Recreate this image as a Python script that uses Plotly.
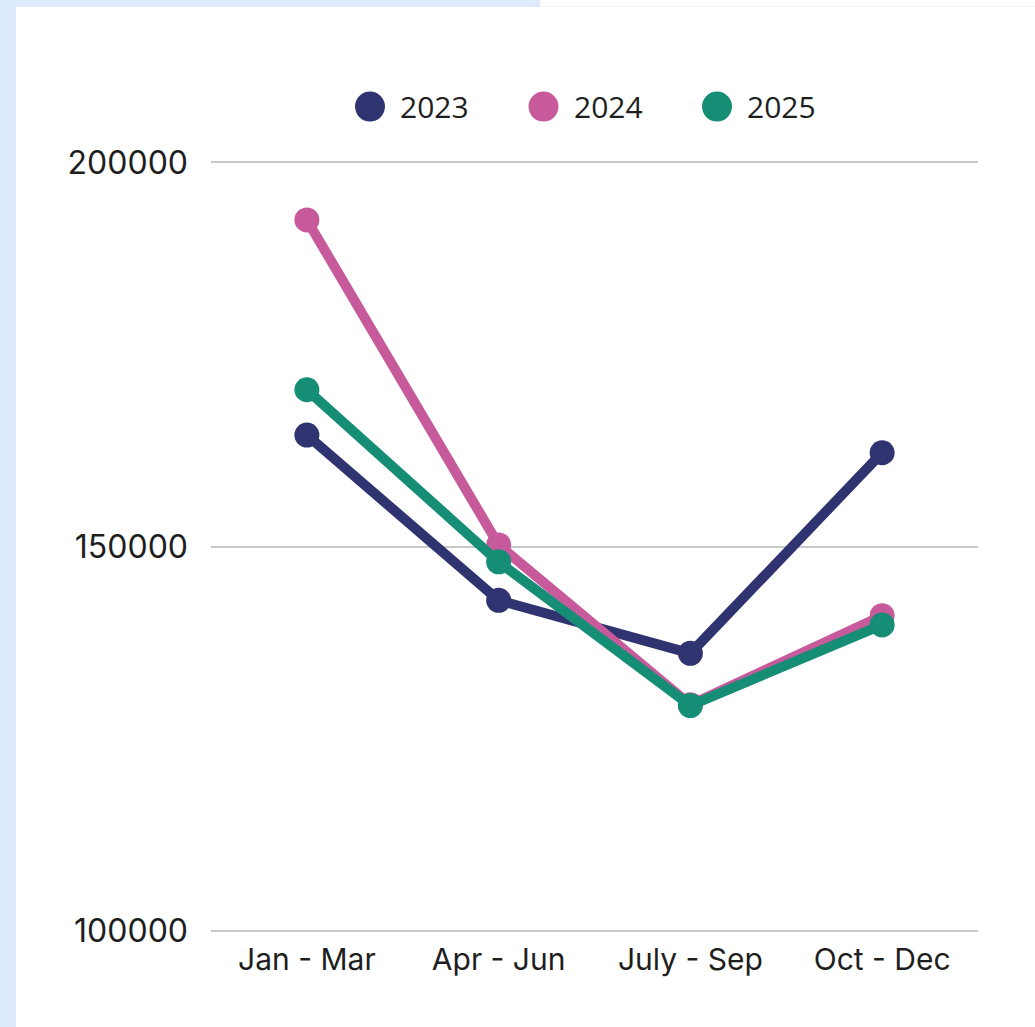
import plotly.graph_objects as go

# ---- data ----
quarters = ["Jan - Mar", "Apr - Jun", "July - Sep", "Oct - Dec"]
years = ["2023", "2024", "2025"]
values_2023 = [164500, 143000, 136100, 162200]
values_2024 = [192500, 150200, 129400, 141000]
values_2025 = [170400, 148000, 129300, 139800]
series_values = [values_2023, values_2024, values_2025]
colors = ["#2F3470", "#C75A9B", "#168E76"]
y_ticks = [100000, 150000, 200000]
y_min, y_max, y_pad = 100000, 200000, 300

# ---- geometry ----
W, H = 1035, 1027
GRID_TOP_PX, GRID_BOT_PX = 162.7, 930.7
px_per_unit = (GRID_BOT_PX - GRID_TOP_PX) / (y_max - y_min)
ML, MR = 211, 57
MT = GRID_TOP_PX - y_pad * px_per_unit
MB = H - (GRID_BOT_PX + y_pad * px_per_unit)
PW, PH = W - ML - MR, H - MT - MB


def px_x(px):
    return (px - ML) / PW


def px_y(py):
    return (H - MB - py) / PH


FONT_AX = "Inter, Open Sans, sans-serif"
FONT_LEG = "Open Sans, sans-serif"
TXT = "#1E1E1E"

fig = go.Figure()
for name, vals, col in zip(years, series_values, colors):
    fig.add_trace(go.Scatter(
        x=quarters, y=vals, name=name, mode="lines+markers",
        line=dict(color=col, width=10),
        marker=dict(color=col, size=25),
        cliponaxis=False, showlegend=False,
    ))

shapes = [
    # light blue frame strips (background decoration)
    dict(type="rect", xref="paper", yref="paper", layer="below",
         x0=px_x(0), x1=px_x(16), y0=px_y(H), y1=px_y(0),
         fillcolor="#DEEBFC", line=dict(width=0)),
    dict(type="rect", xref="paper", yref="paper", layer="below",
         x0=px_x(0), x1=px_x(540), y0=px_y(7.5), y1=px_y(0),
         fillcolor="#DEEBFC", line=dict(width=0)),
    dict(type="rect", xref="paper", yref="paper", layer="below",
         x0=px_x(540), x1=px_x(W), y0=px_y(7.5), y1=px_y(6.5),
         fillcolor="#F2F2F2", line=dict(width=0)),
]

annotations = []
# custom legend: large dots + labels
LEG_START, LEG_STEP, LEG_Y = 370, 173.5, 107
for i, (name, col) in enumerate(zip(years, colors)):
    cx = LEG_START + i * LEG_STEP
    shapes.append(dict(type="circle", xref="paper", yref="paper",
                       xsizemode="pixel", ysizemode="pixel",
                       xanchor=px_x(cx), yanchor=px_y(LEG_Y),
                       x0=-15, x1=15, y0=-15, y1=15,
                       fillcolor=col, line=dict(width=0)))
    annotations.append(dict(xref="paper", yref="paper", x=px_x(cx + 28), y=px_y(LEG_Y),
                            xanchor="left", yanchor="middle", text=name, showarrow=False,
                            font=dict(family=FONT_LEG, size=30, color=TXT)))

fig.update_layout(
    width=W, height=H,
    margin=dict(l=ML, r=MR, t=MT, b=MB, pad=0),
    paper_bgcolor="white", plot_bgcolor="white",
    shapes=shapes, annotations=annotations,
    showlegend=False,
    xaxis=dict(type="category", range=[-0.5, 3.5], showgrid=False, zeroline=False,
               showline=False, ticks="", ticklabelstandoff=6,
               tickfont=dict(family=FONT_AX, size=30, color=TXT)),
    yaxis=dict(range=[y_min - y_pad, y_max + y_pad], tickvals=y_ticks, tickformat="d",
               showgrid=True, gridcolor="#C9C9C9", gridwidth=2, zeroline=False,
               showline=False, ticks="", ticklabelstandoff=22,
               tickfont=dict(family=FONT_AX, size=32, color=TXT)),
)

fig.write_html("out.html",
               config={"displayModeBar": False},
               post_script="document.body.style.margin='0';document.body.style.overflow='hidden';")
